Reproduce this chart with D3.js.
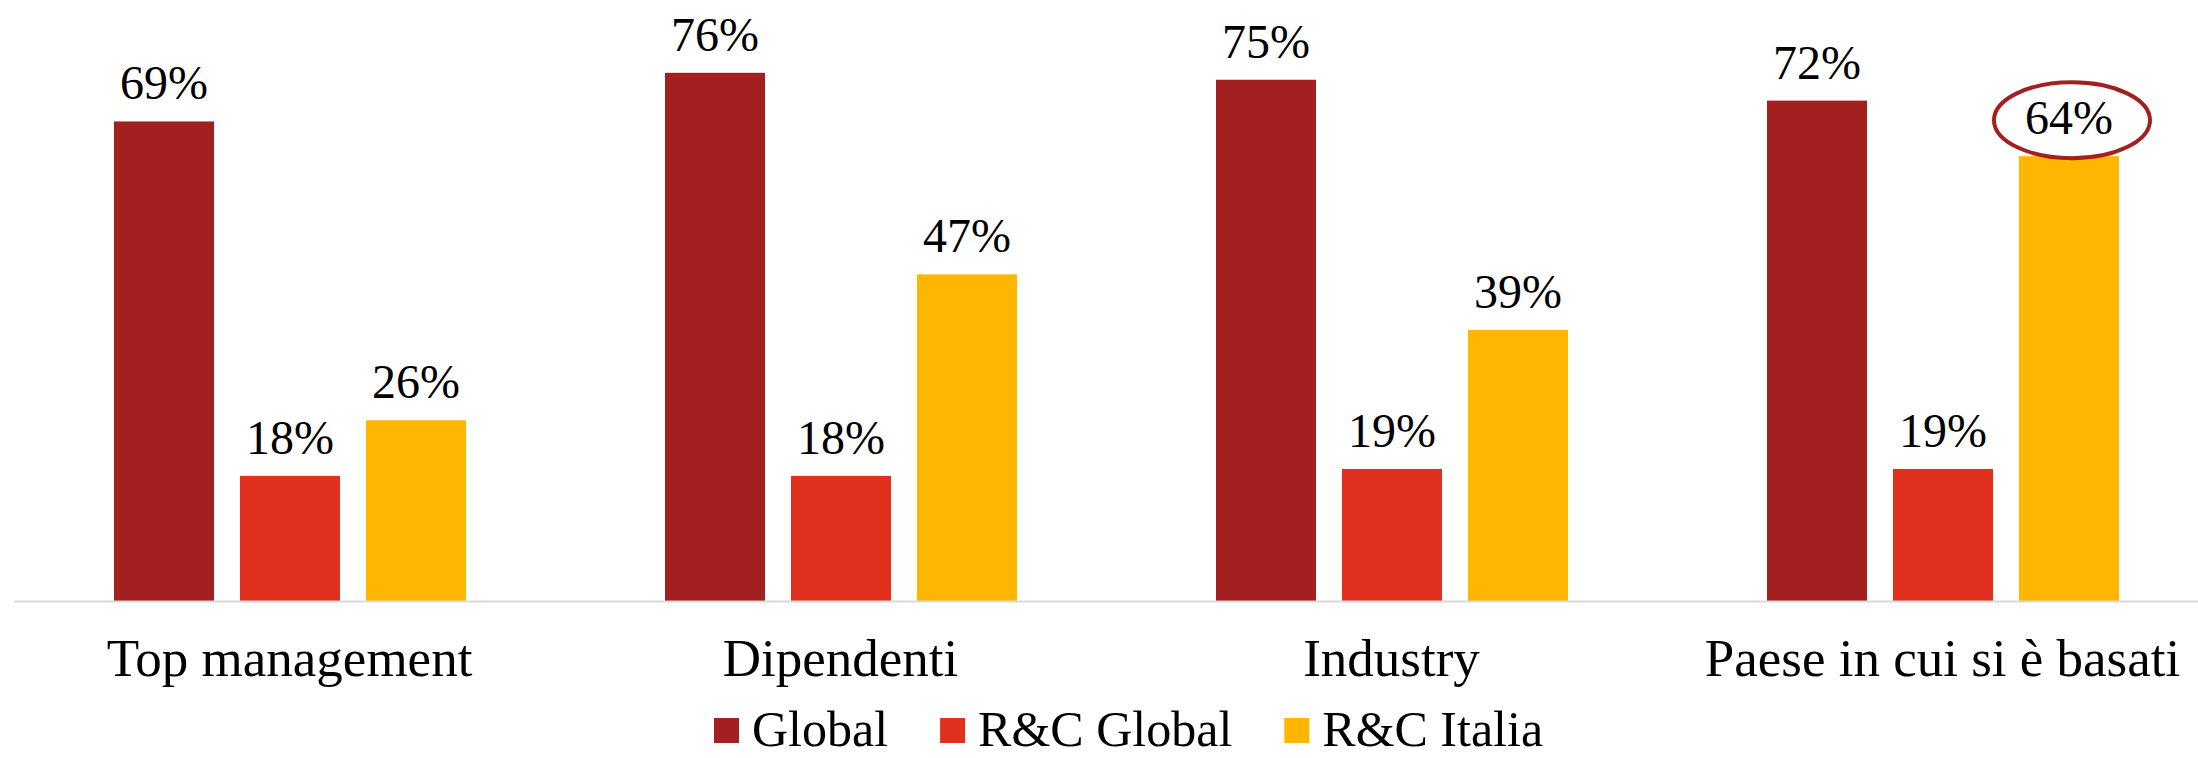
<!DOCTYPE html>
<html>
<head>
<meta charset="utf-8">
<script src="https://cdn.jsdelivr.net/npm/d3@7"></script>
<style>
  html, body { margin: 0; padding: 0; background: #ffffff; }
  svg { display: block; }
  text { font-family: "Liberation Serif", "Times New Roman", serif; fill: #000; }
</style>
</head>
<body>
<svg id="chart" width="2198" height="758"></svg>
<script>
const categories = ["Top management", "Dipendenti", "Industry", "Paese in cui si è basati"];
const seriesNames = ["Global", "R&C Global", "R&C Italia"];
const globalValues = [69, 76, 75, 72];
const rcGlobalValues = [18, 18, 19, 19];
const rcItaliaValues = [26, 47, 39, 64];
const seriesColors = ["#A32020", "#E0301E", "#FFB600"];
const highlightCategory = "Paese in cui si è basati";
const highlightSeries = "R&C Italia";

const valuesBySeries = [globalValues, rcGlobalValues, rcItaliaValues];
const data = categories.map((c, i) => ({
  category: c,
  values: seriesNames.map((s, j) => ({ series: s, value: valuesBySeries[j][i], color: seriesColors[j] }))
}));

const W = 2198, H = 758;
const baseY = 601;
const svg = d3.select("#chart");

const x0 = d3.scaleBand().domain(categories).range([14, 2218]).paddingInner(0).paddingOuter(0);
const x1 = d3.scaleBand().domain(seriesNames).range([100, 452]).paddingInner(0.206).paddingOuter(0);
const y = d3.scaleLinear().domain([0, 80]).range([baseY, baseY - 556]);

// bars
const groups = svg.append("g").selectAll("g").data(data).join("g")
  .attr("transform", d => `translate(${x0(d.category)},0)`);

groups.selectAll("rect").data(d => d.values).join("rect")
  .attr("x", d => x1(d.series))
  .attr("y", d => y(d.value))
  .attr("width", x1.bandwidth())
  .attr("height", d => y(0) - y(d.value))
  .attr("fill", d => d.color);

// value labels
groups.selectAll("text.val").data(d => d.values).join("text")
  .attr("class", "val")
  .attr("x", d => x1(d.series) + x1.bandwidth() / 2)
  .attr("y", d => y(d.value) - 22)
  .attr("text-anchor", "middle")
  .style("font-size", "48px")
  .text(d => d.value + "%");

// highlight ellipse
groups.filter(d => d.category === highlightCategory)
  .selectAll("ellipse").data(d => d.values.filter(v => v.series === highlightSeries)).join("ellipse")
  .attr("cx", d => x1(d.series) + x1.bandwidth() / 2 + 3)
  .attr("cy", d => y(d.value) - 36)
  .attr("rx", 78)
  .attr("ry", 38)
  .attr("fill", "none")
  .attr("stroke", "#A32020")
  .attr("stroke-width", 4);

// baseline axis
const xAxis = d3.axisBottom(x0).tickSize(0).tickPadding(0);
const axisG = svg.append("g").attr("transform", `translate(0,${baseY})`).call(xAxis);
axisG.select(".domain").attr("d", `M14,0.5H${W}`).attr("stroke", "#D9D9D9").attr("stroke-width", 2);
axisG.selectAll(".tick text")
  .attr("y", 75)
  .attr("dy", null)
  .style("font-family", '"Liberation Serif", "Times New Roman", serif')
  .style("font-size", "53px")
  .attr("fill", "#000");

// legend
const legend = svg.append("g").attr("class", "legend");
let lx = 714;
const legendBaseline = 746;
seriesNames.forEach((s, i) => {
  legend.append("rect")
    .attr("x", lx).attr("y", legendBaseline - 28)
    .attr("width", 25).attr("height", 25)
    .attr("fill", seriesColors[i]);
  const t = legend.append("text")
    .attr("x", lx + 38).attr("y", legendBaseline)
    .style("font-size", "50px")
    .text(s);
  const w = t.node().getComputedTextLength();
  lx = lx + 38 + w + 52;
});
</script>
</body>
</html>
